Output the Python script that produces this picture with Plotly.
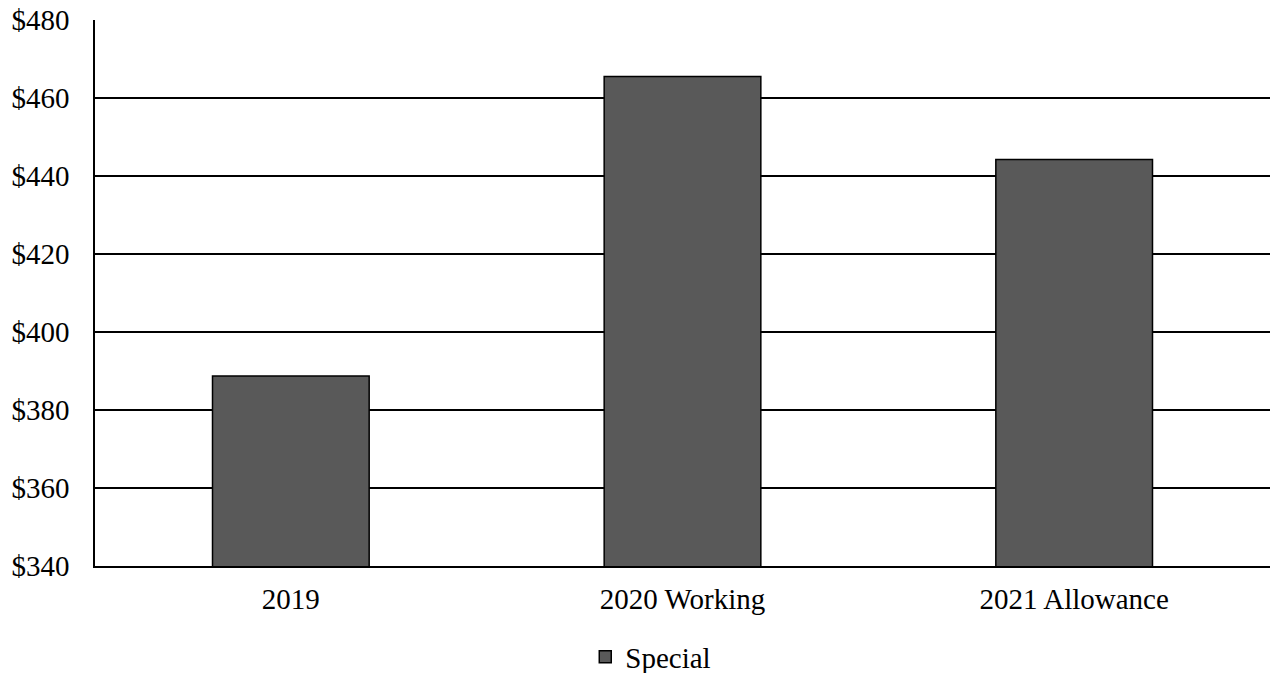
import plotly.graph_objects as go

categories = ["2019", "2020 Working", "2021 Allowance"]
special = [388.7, 465.5, 444.2]
y_ticks = [340, 360, 380, 400, 420, 440, 460, 480]
y_tick_labels = ["$" + str(v) for v in y_ticks]

font_family = "Liberation Serif, Times New Roman, serif"

fig = go.Figure()
fig.add_trace(go.Bar(
    x=categories, y=special, name="Special",
    marker=dict(color="#595959", line=dict(color="black", width=1.5)),
    showlegend=True,
))

fig.update_layout(
    width=1271, height=673,
    margin=dict(l=95, r=1, t=20, b=107, autoexpand=False),
    paper_bgcolor="white", plot_bgcolor="white",
    font=dict(family=font_family, size=29, color="black"),
    bargap=0.6,
    showlegend=True,
    legend=dict(orientation="h", x=0.473, xanchor="center", yref="container", y=0.024,
                yanchor="middle", font=dict(size=29), itemwidth=30),
)
fig.update_xaxes(showline=True, linecolor="black", linewidth=1.5, ticks="", showgrid=False,
                 tickfont=dict(size=29), automargin=False, ticklabelstandoff=6)
fig.update_yaxes(range=[340, 480], tickvals=y_ticks, ticktext=y_tick_labels,
                 showline=True, linecolor="black", linewidth=1.5,
                 showgrid=True, gridcolor="black", gridwidth=1.5,
                 ticks="", ticklabelstandoff=18, zeroline=False, tickfont=dict(size=29),
                 automargin=False)

fig.write_html("out.html")
